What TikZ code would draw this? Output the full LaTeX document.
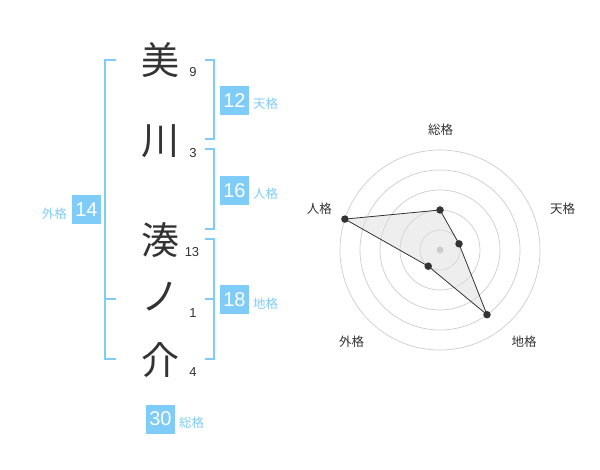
\documentclass[tikz,border=0pt]{standalone}
\usepackage{fontspec}
\setmainfont{Liberation Sans}
\newfontfamily\jp{Noto Sans CJK JP}
\definecolor{kblue}{HTML}{80CCF8}
\definecolor{ktext}{HTML}{333333}
\definecolor{kgrid}{HTML}{CCCCCC}
\definecolor{kfill}{HTML}{DDDDDD}
\begin{document}
\begin{tikzpicture}[x=1pt,y=-1pt,
  kanji/.style={font=\jp\fontsize{38}{38}\selectfont, text=ktext, inner sep=0},
  stroke/.style={font=\fontsize{13}{13}\selectfont, text=ktext, inner sep=0},
  numbox/.style={fill=kblue, text=white, minimum width=29pt, minimum height=29pt, inner sep=0, font=\fontsize{20}{20}\selectfont},
  kaku/.style={font=\jp\fontsize{12.5}{12.5}\selectfont, text=kblue, inner sep=0},
  brk/.style={draw=kblue, line width=2pt},
  rlabel/.style={font=\jp\fontsize{12.5}{12.5}\selectfont, text=ktext, inner sep=0},
  ring/.style={draw=kgrid, line width=0.7pt},
  pt/.style={circle, fill=ktext, inner sep=0, minimum size=7.5pt}
]
\useasboundingbox (0,0) rectangle (600,470);
% characters
\node[kanji] (c1) at (160,60) {美};
\node[kanji] (c2) at (160,141) {川};
\node[kanji] (c3) at (160,240) {湊};
\node[kanji] (c4) at (160,297) {ノ};
\node[kanji] (c5) at (160,360) {介};
\node[stroke] (s1) at (193,72.5) {9};
\node[stroke] (s2) at (193,153) {3};
\node[stroke] (s3) at (192,252.5) {13};
\node[stroke] (s4) at (193,313) {1};
\node[stroke] (s5) at (193,372.5) {4};
% brackets
\draw[brk] (115.5,60) -- (105,60) -- (105,359.5) -- (115.5,359.5);
\draw[brk] (105,299.5) -- (115.5,299.5);
\draw[brk] (205,60) -- (214,60) -- (214,139.5) -- (205,139.5);
\draw[brk] (205,149.5) -- (214,149.5) -- (214,229.5) -- (205,229.5);
\draw[brk] (205,239.5) -- (214,239.5) -- (214,359.5) -- (205,359.5);
\draw[brk] (205,299.5) -- (214,299.5);
% boxes
\node[numbox] (b1) at (234.5,100.5) {12};
\node[kaku, anchor=west] (l1) at (253,104) {天格};
\node[numbox] (b2) at (234.5,190.5) {16};
\node[kaku, anchor=west] (l2) at (253,194) {人格};
\node[numbox] (b3) at (86.5,210) {14};
\node[kaku, anchor=east] (l3) at (67,214) {外格};
\node[numbox] (b4) at (234.5,300) {18};
\node[kaku, anchor=west] (l4) at (253,304) {地格};
\node[numbox] (b5) at (160.5,419) {30};
\node[kaku, anchor=west] (l5) at (179,423) {総格};
% radar
\foreach \r in {20,40,60,80,100} \draw[ring] (440,250) circle (\r);
\coordinate (ps) at (440,210);
\coordinate (pt) at (459.0,243.8);
\coordinate (pc) at (487.0,314.7);
\coordinate (pg) at (428.2,266.2);
\coordinate (pj) at (344.9,219.1);
\fill[kfill, fill opacity=0.5] (ps) -- (pt) -- (pc) -- (pg) -- (pj) -- cycle;
\draw[ktext, line width=0.8pt] (ps) -- (pt) -- (pc) -- (pg) -- (pj) -- cycle;
\fill[kgrid] (440,250) circle (3.5);
\foreach \p in {ps,pt,pc,pg,pj} \node[pt] at (\p) {};
\node[rlabel] (r1) at (440.7,130) {総格};
\node[rlabel] (r2) at (562.7,208.7) {天格};
\node[rlabel] (r3) at (524,341.7) {地格};
\node[rlabel] (r4) at (351.7,341.7) {外格};
\node[rlabel] (r5) at (319.3,208.7) {人格};
\end{tikzpicture}
\end{document}
